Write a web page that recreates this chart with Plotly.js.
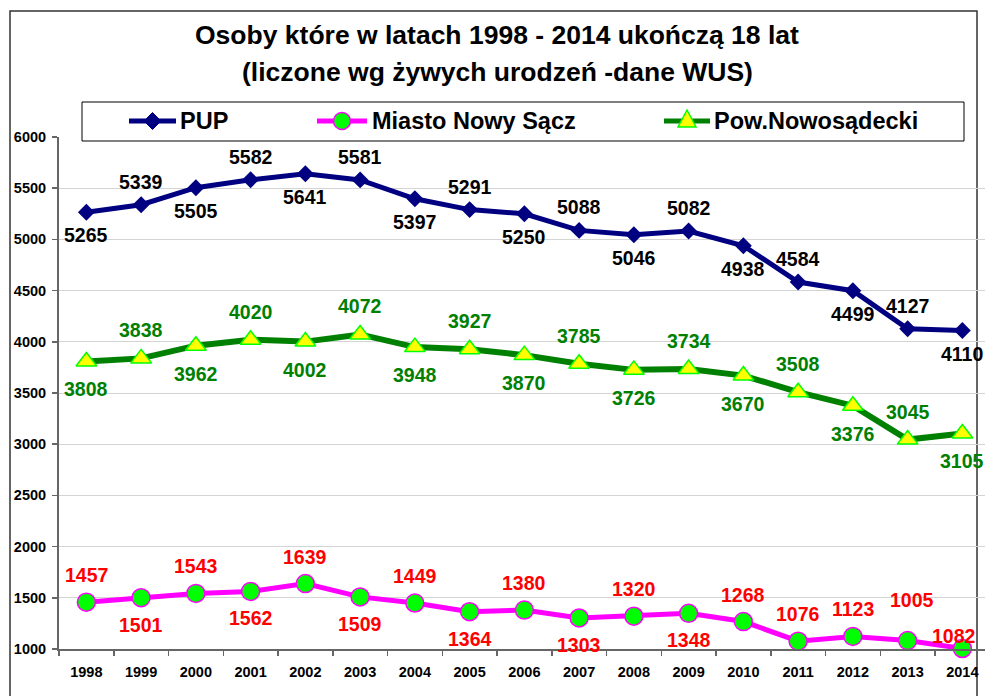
<!DOCTYPE html>
<html>
<head>
<meta charset="utf-8">
<script src="https://cdn.plot.ly/plotly-3.0.1.min.js"></script>
<style>html,body{margin:0;padding:0;background:#fff;}#chart{width:985px;height:696px;}</style>
</head>
<body>
<div id="chart"></div>
<script>
// ---- data ----
const years = ["1998","1999","2000","2001","2002","2003","2004","2005","2006","2007","2008","2009","2010","2011","2012","2013","2014"];
const pup = [5265,5339,5505,5582,5641,5581,5397,5291,5250,5088,5046,5082,4938,4584,4499,4127,4110];
const miasto = [1457,1501,1543,1562,1639,1509,1449,1364,1380,1303,1320,1348,1268,1076,1123,1082,1005];
const powiat = [3808,3838,3962,4020,4002,4072,3948,3927,3870,3785,3726,3734,3670,3508,3376,3045,3105];
// label texts as printed on the reference (last two city labels appear swapped there)
const miastoLabels = ["1457","1501","1543","1562","1639","1509","1449","1364","1380","1303","1320","1348","1268","1076","1123","1005","1082"];
const seriesNames = ["PUP","Miasto Nowy Sącz","Pow.Nowosądecki"];
const titleLines = ["Osoby które w latach 1998 - 2014 ukończą 18 lat","(liczone wg żywych urodzeń -dane WUS)"];

// ---- layout geometry (pixels) ----
const L=59, R=985, T=137, B=649;
const px = X => (X-L)/(R-L);
const py = Y => (B-Y)/(B-T);
const xi = years.map((_,i)=>i);

const FONT = "Liberation Sans, Arial, sans-serif";
const NAVY="#000080", MAG="#FF00FF", DGREEN="#008000", LIME="#00FF00", YEL="#FFFF00";

const traces = [
  {x:xi, y:powiat, mode:"lines+markers", name:seriesNames[2], line:{color:DGREEN,width:6},
   marker:{symbol:"triangle-up",size:18,color:YEL,line:{color:LIME,width:1.5}}, cliponaxis:false, hoverinfo:"skip"},
  {x:xi, y:miasto, mode:"lines+markers", name:seriesNames[1], line:{color:MAG,width:5},
   marker:{symbol:"circle",size:18,color:LIME,line:{color:MAG,width:1.5}}, cliponaxis:false, hoverinfo:"skip"},
  {x:xi, y:pup, mode:"lines+markers", name:seriesNames[0], line:{color:NAVY,width:5},
   marker:{symbol:"diamond",size:13,color:NAVY}, cliponaxis:false, hoverinfo:"skip"}
];

const ann = [];
// title
ann.push({xref:"paper",yref:"paper",x:px(497),y:py(35),text:"<b>"+titleLines[0]+"</b>",showarrow:false,
  font:{family:FONT,size:26.5,color:"#000"},xanchor:"center",yanchor:"middle"});
ann.push({xref:"paper",yref:"paper",x:px(497),y:py(72),text:"<b>"+titleLines[1]+"</b>",showarrow:false,
  font:{family:FONT,size:26.5,color:"#000"},xanchor:"center",yanchor:"middle"});

function addLabels(vals, texts, color, pattern, off){
  vals.forEach((v,i)=>{
    const up = pattern[i]===1;
    ann.push({xref:"x",yref:"y",x:i,y:v,text:"<b>"+texts[i]+"</b>",showarrow:false,
      font:{family:FONT,size:19.5,color:color},xanchor:"center",yanchor:"middle",
      yshift: up ? off : -off});
  });
}
// 1 = above, 0 = below
const alt = [0,1,0,1,0,1,0,1,0,1,0,1,0,1,0,1,0];
addLabels(pup, pup.map(String), "#000", alt, 23);
addLabels(powiat, powiat.map(String), DGREEN, alt, 28);
const mPat = [1,0,1,0,1,0,1,0,1,0,1,0,1,1,1,1,1];
addLabels(miasto, miastoLabels, "#FF0000", mPat, 27);
// the 2014 city label sits almost on its point
const lastM = ann[ann.length-1]; lastM.yshift = 12; lastM.xshift = -8;
const prevM = ann[ann.length-2]; prevM.yshift = 41; prevM.xshift = 4;

// legend (manual)
const shapes = [];
shapes.push({type:"rect",xref:"paper",yref:"paper",x0:px(10),x1:px(977),y0:py(705),y1:py(11),
  line:{color:"#333",width:1.5},fillcolor:"rgba(0,0,0,0)",layer:"below"});
shapes.push({type:"rect",xref:"paper",yref:"paper",x0:px(82),x1:px(964),y0:py(141),y1:py(102),
  line:{color:"#000",width:1},fillcolor:"#fff",layer:"above"});
const LY = 121;
const legItems = [
  {x0:129,x1:176,color:NAVY,kind:"diamond",tx:178},
  {x0:317,x1:367,color:MAG,kind:"circle",tx:370},
  {x0:664,x1:710,color:DGREEN,kind:"triangle",tx:712}
];
legItems.forEach((it,k)=>{
  shapes.push({type:"line",xref:"paper",yref:"paper",x0:px(it.x0),x1:px(it.x1),y0:py(LY),y1:py(LY),
    line:{color:it.color,width:5},layer:"above"});
  const cx=(it.x0+it.x1)/2;
  if(it.kind==="diamond"){
    const d=8.5;
    shapes.push({type:"path",xref:"paper",yref:"paper",layer:"above",
      path:`M${px(cx-d)},${py(LY)} L${px(cx)},${py(LY-d)} L${px(cx+d)},${py(LY)} L${px(cx)},${py(LY+d)} Z`,
      fillcolor:NAVY,line:{color:NAVY,width:1}});
  } else if(it.kind==="circle"){
    const r=8.5;
    shapes.push({type:"circle",xref:"paper",yref:"paper",layer:"above",
      x0:px(cx-r),x1:px(cx+r),y0:py(LY+r),y1:py(LY-r),fillcolor:LIME,line:{color:MAG,width:1.5}});
  } else {
    const w=9, h=10;
    shapes.push({type:"path",xref:"paper",yref:"paper",layer:"above",
      path:`M${px(cx-w)},${py(LY+h*0.6)} L${px(cx+w)},${py(LY+h*0.6)} L${px(cx)},${py(LY-h*1.1)} Z`,
      fillcolor:YEL,line:{color:LIME,width:1.5}});
  }
  ann.push({xref:"paper",yref:"paper",x:px(it.tx),y:py(LY),text:"<b>"+seriesNames[k]+"</b>",showarrow:false,
    font:{family:FONT,size:23.5,color:"#000"},xanchor:"left",yanchor:"middle"});
});

const minorVals = [];
for(let i=0;i<=17;i++) minorVals.push(i-0.5);

const layout = {
  width:985, height:696,
  margin:{l:L, r:985-R, t:T, b:696-B, pad:0},
  paper_bgcolor:"#fff", plot_bgcolor:"#fff",
  showlegend:false,
  font:{family:FONT,color:"#000"},
  xaxis:{range:[-0.5,(R-L)/54.75-0.5], tickmode:"array", tickvals:xi, ticktext:years,
    ticks:"outside", ticklen:9, tickcolor:"rgba(0,0,0,0)",
    tickfont:{family:FONT,size:14.5,weight:"bold",color:"#000"},
    showgrid:false, zeroline:false, showline:true, linecolor:"#666", linewidth:2,
    minor:{tickmode:"array", tickvals:minorVals, ticks:"outside", ticklen:5, tickcolor:"#666", tickwidth:1.5, showgrid:false},
    fixedrange:true},
  yaxis:{range:[1000,6000], tickmode:"linear", tick0:1000, dtick:500,
    ticks:"outside", ticklen:5, tickcolor:"#666", tickwidth:1.5, ticklabelstandoff:3,
    tickfont:{family:FONT,size:14.5,weight:"bold",color:"#000"},
    showgrid:true, gridcolor:"#d4d4d4", gridwidth:1, zeroline:false,
    showline:true, linecolor:"#666", linewidth:2, fixedrange:true},
  annotations:ann,
  shapes:shapes
};

Plotly.newPlot("chart", traces, layout, {displayModeBar:false, staticPlot:true});
</script>
</body>
</html>
